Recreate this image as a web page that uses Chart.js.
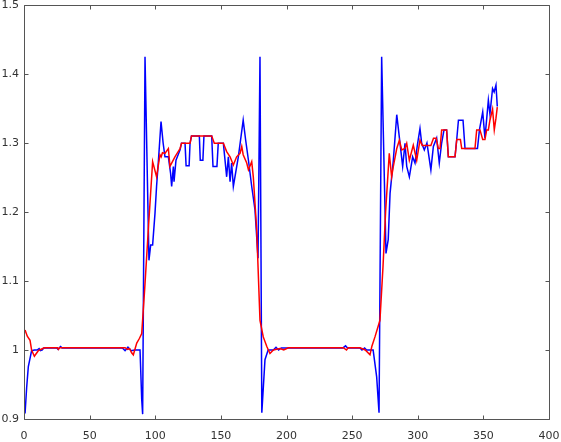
<!DOCTYPE html>
<html>
<head>
<meta charset="utf-8">
<script src="https://cdn.jsdelivr.net/npm/chart.js@4.4.0/dist/chart.umd.min.js"></script>
<style>
  html, body { margin: 0; padding: 0; background: #fff; }
  #wrap { width: 561px; height: 442px; }
</style>
</head>
<body>
<div id="wrap"><canvas id="chart" width="561" height="442"></canvas></div>
<script>
// Axis ticks
const xTicks = [0, 50, 100, 150, 200, 250, 300, 350, 400];
const yTicks = [0.9, 1.0, 1.1, 1.2, 1.3, 1.4, 1.5];

// Blue series
const blueX = [0.8, 2, 3.3, 5.8, 8, 10, 11.5, 12.5, 14, 15, 25, 26, 27.8, 29, 75, 77, 79.2, 81.7, 84.3, 88.4, 89.7, 90.4,
  92.2, 95.2, 96.5, 98, 99.8, 101, 102.3, 104.4, 106, 107.4, 110, 111.7, 112.5, 113.8, 114.3, 115.8, 118.9, 120,
  122.7, 123.5, 125.8, 126.5, 127.6, 133.6, 134.3, 136.3, 137.1, 143, 144, 147, 148, 151.9, 154.4, 155.7, 157,
  158.2, 159.5, 163.3, 167, 168.9, 171, 173.5, 176, 178.3, 179.8, 181.2, 183.6, 186, 190, 192, 194, 196, 243,
  245, 246.5, 256, 257.5, 259.5, 261, 266, 268.7, 270.5, 272.5, 275.8, 277.5, 278.9, 281.4, 284, 286.5, 288.5,
  290.3, 291.6, 293.6, 296.1, 297.9, 299.7, 301.7, 303, 305, 307, 310, 311.9, 314.4, 316.4, 318.2, 320, 322,
  323.3, 328.4, 329.7, 331, 334.5, 336, 345.5, 347, 349.5, 351.2, 353.8, 355, 357, 358.2, 359.6, 360.6];
const blueY = [0.908, 0.945, 0.976, 0.999, 1.0, 1.0, 1.002, 0.999, 1.0, 1.003, 1.003, 1.001, 1.005, 1.003, 1.003, 0.999, 1.004, 0.999, 1.0, 1.0, 0.928, 0.907,
  1.425, 1.13, 1.152, 1.152, 1.198, 1.237, 1.271, 1.331, 1.30, 1.28, 1.28, 1.256, 1.237, 1.266, 1.244, 1.275, 1.29, 1.2995,
  1.2995, 1.267, 1.267, 1.2995, 1.31, 1.31, 1.275, 1.275, 1.31, 1.31, 1.266, 1.266, 1.2995, 1.2995, 1.251, 1.28, 1.244,
  1.271, 1.237, 1.28, 1.333, 1.304, 1.275, 1.237, 1.203, 1.133, 1.425, 0.909, 0.986, 1.0, 1.0, 1.004, 1.0, 1.003, 1.003,
  1.006, 1.003, 1.003, 1.0, 1.003, 1.0, 1.0, 0.961, 0.909, 1.425, 1.14, 1.16, 1.227, 1.275, 1.341, 1.2995, 1.266,
  1.2995, 1.266, 1.251, 1.28, 1.271, 1.297, 1.321, 1.2995, 1.29, 1.30, 1.261, 1.295, 1.307, 1.271, 1.30, 1.319, 1.319,
  1.28, 1.28, 1.305, 1.333, 1.333, 1.292, 1.292, 1.319, 1.345, 1.307, 1.362, 1.342, 1.379, 1.374, 1.384, 1.353];

// Red series
const redX = [0.8, 2.5, 4.6, 5.8, 7.9, 10.9, 14.7, 16, 25.5, 26.2, 27, 77, 79, 80.5, 82, 83.3, 85.9, 88, 89.7, 92, 94.7,
  98, 101, 103.6, 104.5, 105.5, 107.4, 110, 111.2, 115, 118.9, 120, 126.5, 127.6, 143, 145, 151.9, 154.4, 157,
  159.5, 162, 164.6, 165.9, 167, 169.7, 171, 173.5, 174.7, 177.3, 179.8, 182.3, 185, 187.4, 190, 195, 197.9,
  201.4, 243.3, 245.7, 247, 256, 260, 263.6, 265, 267.4, 271.2, 273.5, 275.5, 278.3, 280.1, 281.4, 284, 286,
  287.8, 290.3, 291.6, 293.6, 296.6, 299.2, 301.7, 303.4, 310, 312, 314, 315.7, 317, 318.2, 322, 323.3, 328.4,
  329.7, 332.5, 333.5, 343.6, 344.9, 347.4, 349.5, 351.2, 352.5, 353.8, 355, 357, 358.3, 359.6, 360.6];
const redY = [1.029, 1.02, 1.014, 1.0, 0.991, 0.999, 1.0025, 1.0033, 1.0033, 1.001, 1.0033, 1.0033, 1.001, 1.002, 0.996, 0.993, 1.01, 1.017, 1.024, 1.09, 1.174,
  1.273, 1.251, 1.283, 1.28, 1.286, 1.285, 1.292, 1.266, 1.28, 1.292, 1.2995, 1.2995, 1.31, 1.31, 1.2995, 1.2995, 1.2875, 1.28,
  1.268, 1.28, 1.285, 1.295, 1.283, 1.271, 1.261, 1.273, 1.251, 1.174, 1.043, 1.019, 1.005, 0.995, 1.0, 1.002, 1.0,
  1.0033, 1.0033, 1.0, 1.0033, 1.0033, 1.0, 0.993, 1.005, 1.019, 1.043, 1.12, 1.2, 1.285, 1.251, 1.266, 1.292, 1.304,
  1.29, 1.292, 1.2995, 1.275, 1.297, 1.275, 1.304, 1.2965, 1.2965, 1.307, 1.307, 1.292, 1.292, 1.319, 1.319, 1.28, 1.28,
  1.305, 1.305, 1.292, 1.292, 1.319, 1.319, 1.305, 1.305, 1.319, 1.319, 1.333, 1.349, 1.319, 1.336, 1.352];

const toPoints = (xs, ys) => xs.map((x, i) => ({ x: x, y: ys[i] }));

// Box frame with short inward ticks on all four sides
const frameTicks = {
  id: "frameTicks",
  afterDraw(chart) {
    const { ctx, chartArea: a, scales: { x, y } } = chart;
    const L = Math.round(a.left) + 0.5, R = Math.round(a.right) + 0.5;
    const T = Math.round(a.top) + 0.5, B = Math.round(a.bottom) + 0.5;
    const len = 4;
    ctx.save();
    ctx.strokeStyle = "#555";
    ctx.lineWidth = 1;
    ctx.beginPath();
    ctx.rect(L, T, R - L, B - T);
    x.ticks.forEach((t) => {
      const px = Math.round(x.getPixelForValue(t.value)) + 0.5;
      ctx.moveTo(px, B); ctx.lineTo(px, B - len);
      ctx.moveTo(px, T); ctx.lineTo(px, T + len);
    });
    y.ticks.forEach((t) => {
      const py = Math.round(y.getPixelForValue(t.value)) + 0.5;
      ctx.moveTo(L, py); ctx.lineTo(L + len, py);
      ctx.moveTo(R, py); ctx.lineTo(R - len, py);
    });
    ctx.stroke();
    ctx.restore();
  },
};

const tickFont = { family: "'DejaVu Sans', sans-serif", size: 11 };

new Chart(document.getElementById("chart"), {
  type: "line",
  data: {
    datasets: [
      {
        data: toPoints(redX, redY),
        borderColor: "#ff0000",
        borderWidth: 1.5,
        pointRadius: 0,
        tension: 0,
        order: 0,
      },
      {
        data: toPoints(blueX, blueY),
        borderColor: "#0000ff",
        borderWidth: 1.5,
        pointRadius: 0,
        tension: 0,
        order: 1,
      },
    ],
  },
  options: {
    responsive: false,
    animation: false,
    layout: { padding: { top: 5, right: 12, left: 0, bottom: 0 } },
    plugins: { legend: { display: false }, tooltip: { enabled: false } },
    scales: {
      x: {
        type: "linear",
        min: 0,
        max: 400,
        afterBuildTicks: (s) => { s.ticks = xTicks.map((v) => ({ value: v })); },
        afterFit: (s) => {
          s.height = 23;
          // labels may overhang the plot; keep the plot box fixed
          s.paddingLeft = 0;
          s.paddingRight = 0;
        },
        grid: { display: false, drawTicks: false },
        border: { display: false },
        ticks: { color: "#333", font: tickFont, padding: 11, maxRotation: 0, callback: (v) => String(v) },
      },
      y: {
        min: 0.9,
        max: 1.5,
        afterBuildTicks: (s) => { s.ticks = yTicks.map((v) => ({ value: v })); },
        afterFit: (s) => {
          s.width = 24;
          s.paddingTop = 0;
          s.paddingBottom = 0;
        },
        grid: { display: false, drawTicks: false },
        border: { display: false },
        ticks: { color: "#333", font: tickFont, padding: 5, callback: (v) => String(Math.round(v * 10) / 10) },
      },
    },
  },
  plugins: [frameTicks],
});
</script>
</body>
</html>
